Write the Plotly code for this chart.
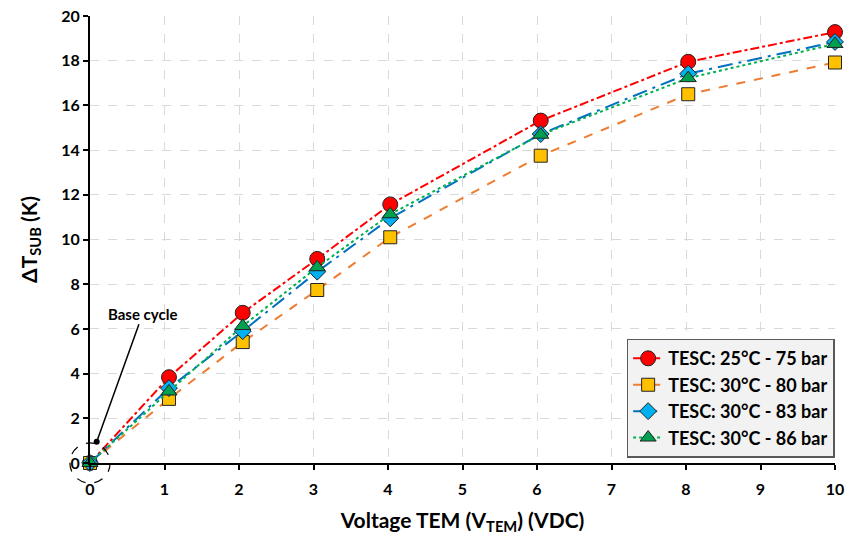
import plotly.graph_objects as go

voltage = [0, 1.06, 2.05, 3.05, 4.03, 6.05, 8.03, 10.0]
series_names = ["TESC: 25°C - 75 bar", "TESC: 30°C - 80 bar", "TESC: 30°C - 83 bar", "TESC: 30°C - 86 bar"]
dt_75 = [0, 3.84, 6.72, 9.13, 11.57, 15.32, 17.95, 19.28]
dt_80 = [0, 2.87, 5.41, 7.74, 10.1, 13.75, 16.5, 17.92]
dt_83 = [0, 3.35, 5.9, 8.56, 10.95, 14.72, 17.42, 18.84]
dt_86 = [0, 3.2, 6.13, 8.76, 11.13, 14.69, 17.22, 18.75]
x_ticks = list(range(0, 11))
y_ticks = list(range(0, 21, 2))

FONT = "Lato"

styles = [
    dict(line=dict(color="#ff0000", width=2, dash="dashdot"),
         marker=dict(symbol="circle", size=15, color="#ff0000", line=dict(color="#222222", width=1))),
    dict(line=dict(color="#ed7d31", width=2, dash="dash"),
         marker=dict(symbol="square", size=13, color="#ffc000", line=dict(color="#222222", width=1))),
    dict(line=dict(color="#0070c0", width=2, dash="longdashdot"),
         marker=dict(symbol="diamond", size=13, color="#00b0f0", line=dict(color="#222222", width=1))),
    dict(line=dict(color="#00b050", width=2, dash="dot"),
         marker=dict(symbol="triangle-up", size=14, color="#00a050", line=dict(color="#222222", width=1))),
]

fig = go.Figure()
for name, ys, st in zip(series_names, [dt_75, dt_80, dt_83, dt_86], styles):
    fig.add_trace(go.Scatter(x=voltage, y=ys, mode="lines+markers", name="<b>" + name + "</b>",
                             line=st["line"], marker=st["marker"], cliponaxis=False))

fig.update_layout(
    width=846, height=535,
    margin=dict(l=90, r=11, t=16, b=72),
    plot_bgcolor="white", paper_bgcolor="white",
    font=dict(family=FONT, size=16, color="black"),
    showlegend=True,
    legend=dict(x=0.9995, y=0.012, xanchor="right", yanchor="bottom",
                bgcolor="#f2f2f2", bordercolor="#595959", borderwidth=1.5,
                font=dict(family=FONT, size=18, color="black"),
                itemwidth=30),
    xaxis=dict(range=[0, 10], tickvals=x_ticks, ticktext=["<b>%d</b>" % v for v in x_ticks],
               showline=True, linecolor="black", linewidth=2, automargin=False,
               ticks="outside", ticklen=5, tickcolor="black", tickwidth=1.5,
               ticklabelstandoff=6,
               showgrid=True, gridcolor="#d9d9d9", griddash="dash", gridwidth=1,
               zeroline=False,
               tickfont=dict(family=FONT, size=16),
               title=dict(text="<b>Voltage TEM (V<sub>TEM</sub>) (VDC)</b>", standoff=16,
                          font=dict(family=FONT, size=21))),
    yaxis=dict(range=[0, 20], tickvals=y_ticks, ticktext=["<b>%d</b>" % v for v in y_ticks],
               showline=True, linecolor="black", linewidth=2, automargin=False,
               ticks="outside", ticklen=5, tickcolor="black", tickwidth=1.5,
               showgrid=True, gridcolor="#d9d9d9", griddash="dash", gridwidth=1,
               zeroline=False,
               tickfont=dict(family=FONT, size=16),
               title=dict(text="<b>ΔT<sub>SUB</sub> (K)</b>", standoff=18,
                          font=dict(family=FONT, size=21))),
)

fig.add_shape(type="circle", xref="paper", yref="paper",
              x0=-0.027, x1=0.027, y0=-0.045, y1=0.045,
              line=dict(color="black", width=1.2, dash="dash"))

fig.add_annotation(x=0.09, y=0.95, xref="x", yref="y", text="<b>Base cycle</b>",
                   showarrow=True, arrowhead=6, arrowsize=1, arrowwidth=1.5, arrowcolor="black",
                   ax=46, ay=-128, font=dict(family=FONT, size=15, color="black"),
                   standoff=0)

fig.write_html("out.html")
